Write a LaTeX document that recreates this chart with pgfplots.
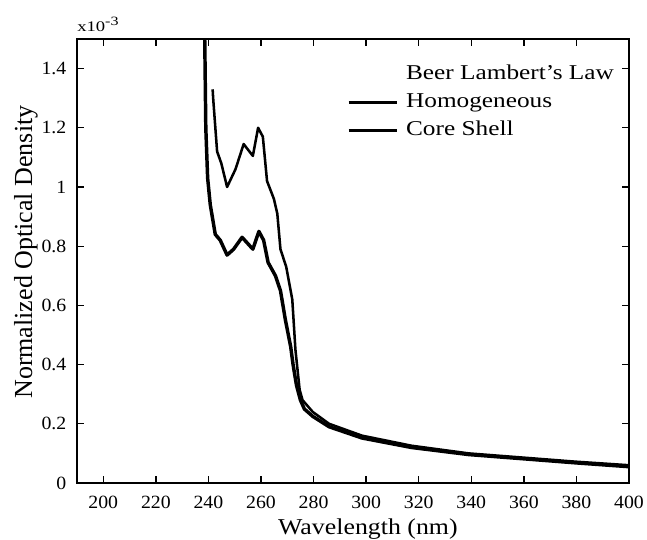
\documentclass[border=0pt]{standalone}
\usepackage{fontspec}
\setmainfont{Liberation Serif}
\usepackage{pgfplots}
\pgfplotsset{compat=1.18}
\begin{document}
\begin{tikzpicture}
\begin{axis}[
  name=ax,
  scale only axis,
  width=414pt, height=333pt,
  xmin=190, xmax=400, ymin=0, ymax=1.5,
  xtick={200,220,...,400},
  ytick={0,0.2,...,1.4},
  yticklabels={0,0.2,0.4,0.6,0.8,1,1.2,1.4},
  tick align=inside,
  major tick length=5pt,
  every tick/.style={black, line width=1pt},
  axis line style={line width=1.3pt},
  /pgf/number format/assume math mode=true,
  tick label style={font=\fontsize{14}{16}\selectfont\addfontfeature{FakeStretch=1.06}},
  xticklabel style={yshift=-6pt},
  yticklabel style={xshift=-4.5pt},
  xlabel={Wavelength (nm)},
  ylabel={Normalized Optical Density},
  every axis x label/.style={at={(axis description cs:0.527,-0.117)}, anchor=base, font=\fontsize{17}{20}\selectfont\addfontfeature{FakeStretch=1.14}},
  every axis y label/.style={at={(axis description cs:-0.0815,0.52)}, rotate=90, anchor=base, font=\fontsize{19.5}{24}\selectfont},
  clip=true,
  legend style={at={(axis description cs:0.489,0.953)}, anchor=north west, draw=none, fill=none,
    font=\fontsize{15.8}{19}\selectfont\addfontfeature{FakeStretch=1.2}, row sep=0pt, column sep=3pt, inner sep=0pt,
    nodes={inner sep=3pt, text height=11.5pt, text depth=3.5pt}},
  legend cell align=left,
  legend image code/.code={\draw[#1] (0pt,0pt) -- (36pt,0pt);},
]
\addlegendimage{empty legend}
\addlegendentry{Beer Lambert's Law}
% Homogeneous (thick, lower)
\addplot[black, line width=2.6pt, line join=round, forget plot] coordinates {
(238.0,1.80) (238.6,1.50) (239.0,1.20) (239.7,1.03) (240.7,0.94) (242.6,0.84)
(244.5,0.82) (247.1,0.77) (249.6,0.79) (252.8,0.83) (256.9,0.79) (259.2,0.85)
(261.0,0.82) (262.7,0.745) (265.5,0.70) (267.4,0.65) (269.3,0.55) (271.3,0.46)
(272.2,0.40) (273.5,0.33) (275.0,0.28) (276.5,0.25) (279.7,0.225) (285.9,0.19)
(298.4,0.152) (317.2,0.12) (339.0,0.096) (359.4,0.082) (379.7,0.068) (400.0,0.055)
};
\addlegendimage{black, line width=2.2pt}
\addlegendentry{Homogeneous}
% Core Shell (thinner, upper)
\addplot[black, line width=1.9pt, line join=round, forget plot] coordinates {
(241.6,1.33) (241.8,1.30) (243.3,1.12) (244.9,1.08) (247.1,1.00) (250.3,1.06)
(253.4,1.145) (256.9,1.105) (258.9,1.20) (260.7,1.17) (262.3,1.02) (264.9,0.96)
(266.2,0.91) (267.4,0.79) (269.6,0.73) (271.9,0.62) (273.1,0.45) (274.7,0.315)
(275.8,0.28) (279.7,0.24) (285.9,0.20) (298.4,0.16) (317.2,0.126) (339.0,0.10)
(359.4,0.086) (379.7,0.072) (400.0,0.06)
};
\addlegendimage{black, line width=2.2pt}
\addlegendentry{Core Shell}
\end{axis}
\node[anchor=base west, inner sep=0pt, font=\fontsize{11}{13}\selectfont\addfontfeature{FakeStretch=1.27}] at ([yshift=5.25pt]ax.north west) {x10\raisebox{4.5pt}{\fontsize{9.5}{11}\selectfont -3}};
\pgfresetboundingbox
\path ([xshift=-57.75pt,yshift=-42.75pt]ax.south west) rectangle ([xshift=13.5pt,yshift=29.25pt]ax.north east);
\end{tikzpicture}
\end{document}
